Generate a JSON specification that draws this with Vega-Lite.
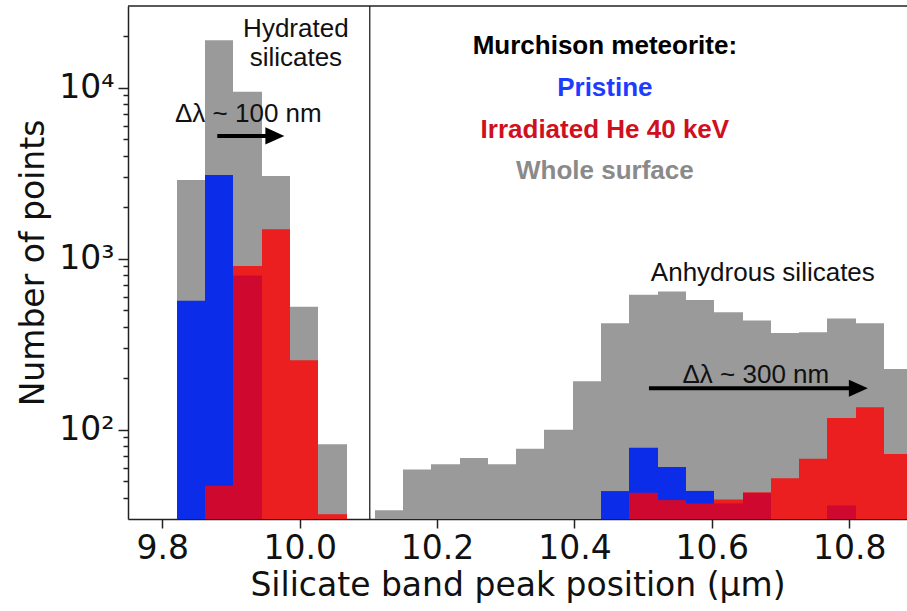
{
  "$schema": "https://vega.github.io/schema/vega-lite/v6.json",
  "width": 779,
  "height": 513,
  "autosize": "none",
  "padding": {"left": 128, "top": 6, "right": 0, "bottom": 92},
  "background": "white",
  "config": {"view": {"stroke": null}, "font": "DejaVu Sans"},
  "data": {
    "values": [
      {"bin_start": 9.821343, "bin_end": 9.862110, "whole": 2880, "pristine": 567, "irradiated": null},
      {"bin_start": 9.862110, "bin_end": 9.902877, "whole": 18900, "pristine": 3080, "irradiated": 47},
      {"bin_start": 9.902877, "bin_end": 9.945100, "whole": 9470, "pristine": 796, "irradiated": 905},
      {"bin_start": 9.945100, "bin_end": 9.985867, "whole": 3040, "pristine": null, "irradiated": 1485},
      {"bin_start": 9.985867, "bin_end": 10.026634, "whole": 523, "pristine": null, "irradiated": 254},
      {"bin_start": 10.026634, "bin_end": 10.068857, "whole": 82, "pristine": null, "irradiated": 32},
      {"bin_start": 10.109625, "bin_end": 10.150392, "whole": 33.7, "pristine": null, "irradiated": null},
      {"bin_start": 10.150392, "bin_end": 10.191159, "whole": 58.5, "pristine": null, "irradiated": null},
      {"bin_start": 10.191159, "bin_end": 10.233382, "whole": 62.6, "pristine": null, "irradiated": null},
      {"bin_start": 10.233382, "bin_end": 10.274149, "whole": 68.1, "pristine": null, "irradiated": null},
      {"bin_start": 10.274149, "bin_end": 10.314916, "whole": 62.6, "pristine": null, "irradiated": null},
      {"bin_start": 10.314916, "bin_end": 10.355684, "whole": 77.2, "pristine": null, "irradiated": null},
      {"bin_start": 10.355684, "bin_end": 10.397907, "whole": 99.7, "pristine": null, "irradiated": null},
      {"bin_start": 10.397907, "bin_end": 10.438674, "whole": 192, "pristine": null, "irradiated": null},
      {"bin_start": 10.438674, "bin_end": 10.479441, "whole": 418, "pristine": 43.7, "irradiated": null},
      {"bin_start": 10.479441, "bin_end": 10.521664, "whole": 615, "pristine": 78.3, "irradiated": 42.7},
      {"bin_start": 10.521664, "bin_end": 10.562431, "whole": 643, "pristine": 60.4, "irradiated": 38.7},
      {"bin_start": 10.562431, "bin_end": 10.603198, "whole": 573, "pristine": 43.8, "irradiated": 37},
      {"bin_start": 10.603198, "bin_end": 10.645422, "whole": 485, "pristine": 37, "irradiated": 39},
      {"bin_start": 10.645422, "bin_end": 10.686189, "whole": 434, "pristine": 42.5, "irradiated": 43},
      {"bin_start": 10.686189, "bin_end": 10.726956, "whole": 367, "pristine": null, "irradiated": 52},
      {"bin_start": 10.726956, "bin_end": 10.767723, "whole": 371, "pristine": null, "irradiated": 67.5},
      {"bin_start": 10.767723, "bin_end": 10.809946, "whole": 447, "pristine": 36, "irradiated": 117},
      {"bin_start": 10.809946, "bin_end": 10.850713, "whole": 418, "pristine": null, "irradiated": 135},
      {"bin_start": 10.850713, "bin_end": 10.891480, "whole": 226, "pristine": null, "irradiated": 72}
    ]
  },
  "layer": [
    {
      "mark": {"type": "bar", "color": "#9a9a9a", "strokeWidth": 0, "clip": true},
      "encoding": {
        "x": {
          "field": "bin_start", "type": "quantitative",
          "scale": {"domain": [9.75, 10.8842], "nice": false, "zero": false},
          "axis": {
            "values": [9.8, 10.0, 10.2, 10.4, 10.6, 10.8],
            "format": ".1f",
            "title": "Silicate band peak position (µm)",
            "grid": false,
            "tickSize": 9, "tickWidth": 1.5, "tickColor": "#222",
            "domainColor": "#222", "domainWidth": 1.5,
            "labelFont": "DejaVu Sans", "labelFontSize": 33, "labelColor": "#111", "labelPadding": 4,
            "labelFlush": false, "labelOverlap": false,
            "titleFont": "DejaVu Sans", "titleFontSize": 33, "titleFontWeight": "normal", "titleColor": "#111", "titlePadding": 4
          }
        },
        "x2": {"field": "bin_end"},
        "y": {
          "field": "whole", "type": "quantitative",
          "scale": {"type": "log", "domain": [30, 30000], "nice": false},
          "axis": {
            "values": [40, 50, 60, 70, 80, 90, 100, 200, 300, 400, 500, 600, 700, 800, 900, 1000, 2000, 3000, 4000, 5000, 6000, 7000, 8000, 9000, 10000, 20000],
            "labelExpr": "datum.value == 100 ? '10²' : datum.value == 1000 ? '10³' : datum.value == 10000 ? '10⁴' : ''",
            "tickSize": {"condition": {"test": "datum.value == 100 || datum.value == 1000 || datum.value == 10000", "value": 10}, "value": 5},
            "tickWidth": 1.5, "tickColor": "#222",
            "domainColor": "#222", "domainWidth": 1.5,
            "grid": false,
            "labelFont": "DejaVu Sans", "labelFontSize": 33, "labelColor": "#111", "labelPadding": 4,
            "labelFlush": false, "labelOverlap": false,
            "title": "Number of points",
            "titleFont": "DejaVu Sans", "titleFontSize": 33, "titleFontWeight": "normal", "titleColor": "#111", "titlePadding": 8
          }
        },
        "y2": {"datum": 30}
      }
    },
    {
      "mark": {"type": "bar", "color": "#0b2ce8", "strokeWidth": 0, "clip": true},
      "encoding": {
        "x": {"field": "bin_start", "type": "quantitative"},
        "x2": {"field": "bin_end"},
        "y": {"field": "pristine", "type": "quantitative"},
        "y2": {"datum": 30}
      }
    },
    {
      "mark": {"type": "bar", "color": "#ff0000", "opacity": 0.8, "strokeWidth": 0, "clip": true},
      "encoding": {
        "x": {"field": "bin_start", "type": "quantitative"},
        "x2": {"field": "bin_end"},
        "y": {"field": "irradiated", "type": "quantitative"},
        "y2": {"datum": 30}
      }
    },
    {
      "data": {"values": [{}]},
      "mark": {"type": "rule", "color": "#222", "strokeWidth": 1.5},
      "encoding": {"y": {"datum": 30000, "type": "quantitative"}}
    },
    {
      "data": {"values": [{}]},
      "mark": {"type": "rule", "color": "#222", "strokeWidth": 1.3},
      "encoding": {"x": {"datum": 10.102, "type": "quantitative"}}
    },
    {
      "data": {"values": [{}]},
      "mark": {"type": "rule", "color": "#000", "strokeWidth": 4},
      "encoding": {
        "x": {"datum": 9.880, "type": "quantitative"},
        "x2": {"datum": 9.960},
        "y": {"datum": 5218, "type": "quantitative"}
      }
    },
    {
      "data": {"values": [{}]},
      "mark": {"type": "point", "shape": "M-1,-0.9L1,0L-1,0.9Z", "filled": true, "color": "#000", "opacity": 1, "size": 361, "strokeWidth": 0},
      "encoding": {
        "x": {"datum": 9.9638, "type": "quantitative"},
        "y": {"datum": 5218, "type": "quantitative"}
      }
    },
    {
      "data": {"values": [{}]},
      "mark": {"type": "rule", "color": "#000", "strokeWidth": 4},
      "encoding": {
        "x": {"datum": 10.5085, "type": "quantitative"},
        "x2": {"datum": 10.808},
        "y": {"datum": 174.6, "type": "quantitative"}
      }
    },
    {
      "data": {"values": [{}]},
      "mark": {"type": "point", "shape": "M-1,-0.9L1,0L-1,0.9Z", "filled": true, "color": "#000", "opacity": 1, "size": 361, "strokeWidth": 0},
      "encoding": {
        "x": {"datum": 10.8134, "type": "quantitative"},
        "y": {"datum": 174.6, "type": "quantitative"}
      }
    },
    {
      "data": {"values": [{}]},
      "mark": {"type": "text", "font": "Liberation Sans", "fontSize": 26, "align": "center", "baseline": "alphabetic", "lineHeight": 29.5, "color": "#111", "text": ["Hydrated", "silicates"]},
      "encoding": {
        "x": {"datum": 9.9944, "type": "quantitative"},
        "y": {"datum": 19894, "type": "quantitative"}
      }
    },
    {
      "data": {"values": [{}]},
      "mark": {"type": "text", "font": "Liberation Sans", "fontSize": 26, "align": "center", "baseline": "alphabetic", "color": "#111", "text": "Δλ ~ 100 nm"},
      "encoding": {
        "x": {"datum": 9.9252, "type": "quantitative"},
        "y": {"datum": 6290, "type": "quantitative"}
      }
    },
    {
      "data": {"values": [{}]},
      "mark": {"type": "text", "font": "Liberation Sans", "fontSize": 26, "align": "center", "baseline": "alphabetic", "color": "#111", "text": "Anhydrous silicates"},
      "encoding": {
        "x": {"datum": 10.6743, "type": "quantitative"},
        "y": {"datum": 740, "type": "quantitative"}
      }
    },
    {
      "data": {"values": [{}]},
      "mark": {"type": "text", "font": "Liberation Sans", "fontSize": 26, "align": "center", "baseline": "alphabetic", "color": "#111", "text": "Δλ ~ 300 nm"},
      "encoding": {
        "x": {"datum": 10.6641, "type": "quantitative"},
        "y": {"datum": 187, "type": "quantitative"}
      }
    },
    {
      "data": {"values": [{}]},
      "mark": {"type": "text", "font": "Liberation Sans", "fontSize": 26, "fontWeight": "bold", "align": "center", "baseline": "alphabetic", "color": "#000", "text": "Murchison meteorite:"},
      "encoding": {
        "x": {"datum": 10.4443, "type": "quantitative"},
        "y": {"datum": 15654, "type": "quantitative"}
      }
    },
    {
      "data": {"values": [{}]},
      "mark": {"type": "text", "font": "Liberation Sans", "fontSize": 26, "fontWeight": "bold", "align": "center", "baseline": "alphabetic", "color": "#1e3cff", "text": "Pristine"},
      "encoding": {
        "x": {"datum": 10.4443, "type": "quantitative"},
        "y": {"datum": 8929, "type": "quantitative"}
      }
    },
    {
      "data": {"values": [{}]},
      "mark": {"type": "text", "font": "Liberation Sans", "fontSize": 26, "fontWeight": "bold", "align": "center", "baseline": "alphabetic", "color": "#d0101e", "text": "Irradiated He 40 keV"},
      "encoding": {
        "x": {"datum": 10.4443, "type": "quantitative"},
        "y": {"datum": 5051, "type": "quantitative"}
      }
    },
    {
      "data": {"values": [{}]},
      "mark": {"type": "text", "font": "Liberation Sans", "fontSize": 26, "fontWeight": "bold", "align": "center", "baseline": "alphabetic", "color": "#8a8a8a", "text": "Whole surface"},
      "encoding": {
        "x": {"datum": 10.4443, "type": "quantitative"},
        "y": {"datum": 2908, "type": "quantitative"}
      }
    }
  ]
}
